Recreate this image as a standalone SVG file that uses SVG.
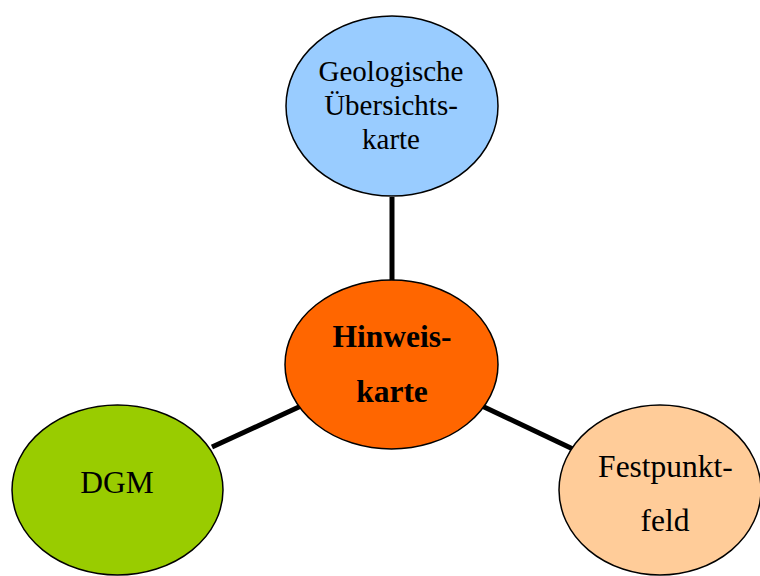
<svg xmlns="http://www.w3.org/2000/svg" width="760" height="576" viewBox="0 0 760 576">
<style>
.n{stroke:#000;stroke-width:1.5}
.t{font-family:"Liberation Serif","Times New Roman",serif;fill:#000;text-anchor:middle}
.c{stroke:#000;stroke-width:5;fill:none}
</style>
<rect width="760" height="576" fill="#fff"/>
<g id="connectors">
<line class="c" x1="392" y1="197" x2="392" y2="281"/>
<line class="c" x1="212" y1="447" x2="301" y2="406"/>
<line class="c" x1="482" y1="406" x2="575" y2="450"/>
</g>
<g id="geo">
<ellipse class="n" cx="392" cy="106" rx="106" ry="90" fill="#99CCFF"/>
<text class="t" x="391" y="81" font-size="29">Geologische</text>
<text class="t" x="391" y="115" font-size="29">Übersichts-</text>
<text class="t" x="391" y="149" font-size="29">karte</text>
</g>
<g id="hinweis">
<ellipse class="n" cx="391.5" cy="364.5" rx="106.5" ry="84.5" fill="#FF6600"/>
<text class="t" x="392" y="347" font-size="31.5" font-weight="bold">Hinweis-</text>
<text class="t" x="392" y="402" font-size="31.5" font-weight="bold">karte</text>
</g>
<g id="dgm">
<ellipse class="n" cx="117.5" cy="490" rx="105.5" ry="85" fill="#99CC00"/>
<text class="t" x="117" y="493" font-size="31.5">DGM</text>
</g>
<g id="festpunkt">
<ellipse class="n" cx="660" cy="490" rx="101" ry="85" fill="#FFCC99"/>
<text class="t" x="665.5" y="477" font-size="31.5">Festpunkt-</text>
<text class="t" x="665" y="531" font-size="31.5">feld</text>
</g>
</svg>
